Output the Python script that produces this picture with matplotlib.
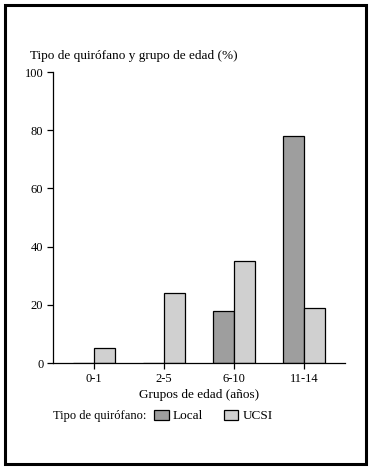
import numpy as np
from matplotlib import pyplot as plt
from matplotlib.patches import Rectangle

groups = ["0-1", "2-5", "6-10", "11-14"]
local = [0, 0, 18, 78]
ucsi = [5, 24, 35, 19]
y_ticks = [0, 20, 40, 60, 80, 100]

plt.rcParams["font.family"] = ["Liberation Serif", "DejaVu Serif"]
plt.rcParams["font.size"] = 9.5

fig = plt.figure(figsize=(3.71, 4.69), dpi=100)
ax = fig.add_axes([53 / 371, 1 - 363 / 469, 292 / 371, 291 / 469])

x = np.arange(len(groups))
width = 0.3
b1 = ax.bar(x - width / 2, local, width, color="#9e9e9e", edgecolor="black", linewidth=0.9, label="Local")
b2 = ax.bar(x + width / 2, ucsi, width, color="#d0d0d0", edgecolor="black", linewidth=0.9, label="UCSI")

ax.set_xlim(-0.586, 3.586)
ax.set_ylim(0, 100)
ax.set_yticks(y_ticks)
ax.set_xticks(x, groups)
for s in ["top", "right"]:
    ax.spines[s].set_visible(False)
for s in ["left", "bottom"]:
    ax.spines[s].set_linewidth(0.9)
ax.tick_params(length=4, width=0.9, labelsize=9, pad=3)
ax.set_xlabel("Grupos de edad (años)", fontsize=9.5, labelpad=3)

fig.text(30 / 371, 1 - 56 / 469, "Tipo de quirófano y grupo de edad (%)", va="center")
fig.text(53 / 371, 1 - 416 / 469, "Tipo de quirófano:", fontsize=9, va="center")
fig.legend(handles=[b1, b2], ncol=2, frameon=False, loc="center left",
           bbox_to_anchor=(154 / 371, 1 - 416 / 469), fontsize=9.5,
           handlelength=1.1, handleheight=0.8, handletextpad=0.3, columnspacing=1.6,
           borderpad=0, borderaxespad=0)

fig.patches.append(Rectangle((5 / 371, 5 / 469), 361 / 371, 459 / 469, transform=fig.transFigure,
                             fill=False, edgecolor="black", linewidth=2.2))

fig.savefig("out.png", dpi=100)
